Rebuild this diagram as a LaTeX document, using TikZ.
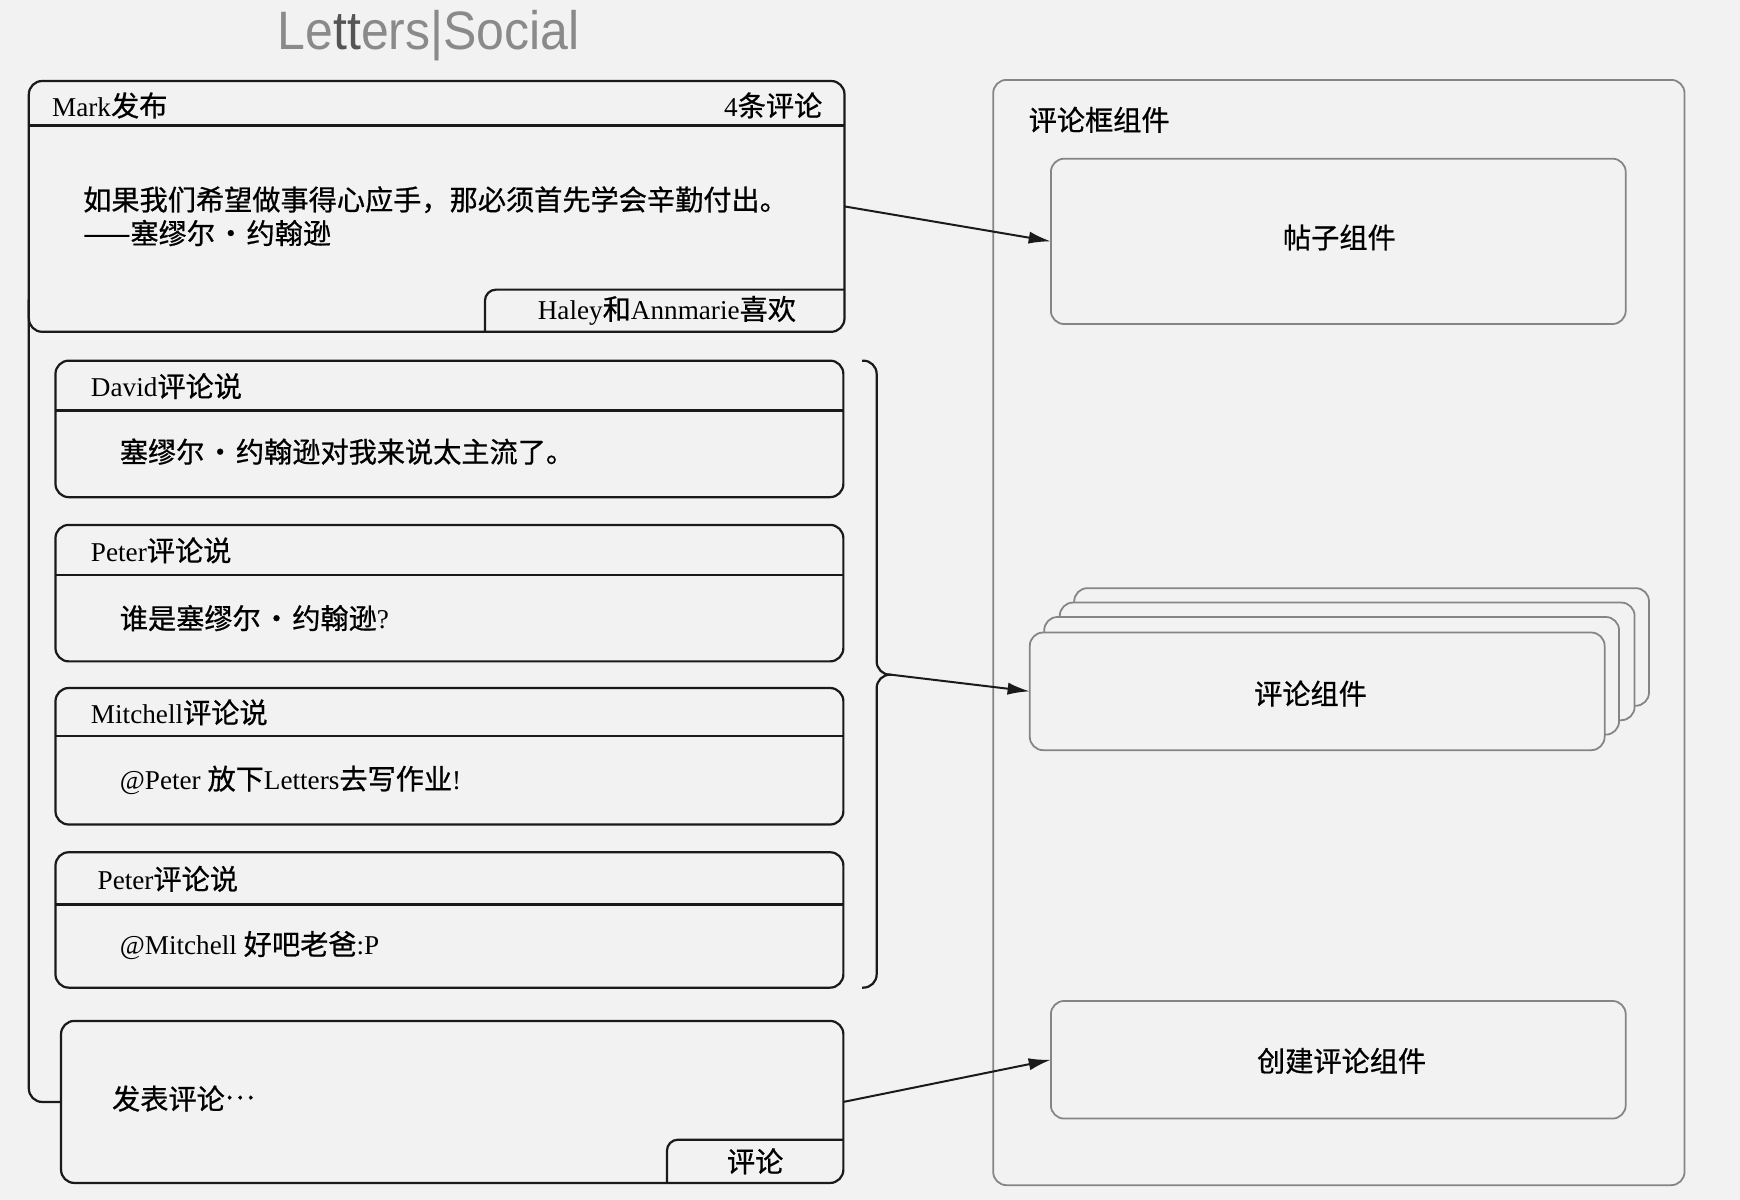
\documentclass[tikz,border=0pt]{standalone}
\usepackage{fontspec}
\setmainfont{Liberation Serif}
\newfontfamily\cjkfont[FakeBold=0.7]{Noto Sans CJK SC}
\newfontfamily\logofont{Liberation Sans}
\usetikzlibrary{arrows.meta}
\newcommand\zh[1]{{\cjkfont\fontsize{25.4}{29}\selectfont #1}}
\newcommand\mdot{\hspace{1.5pt}·\hspace{1.5pt}}
\definecolor{bgc}{HTML}{F2F2F2}
\definecolor{lcol}{HTML}{1A1A1A}
\definecolor{rcol}{HTML}{858585}
\definecolor{logogray}{HTML}{8A8A8A}
\definecolor{logodark}{HTML}{555555}
\tikzset{
  lbox/.style={draw=lcol, line width=2pt, rounded corners=12pt, inner sep=0pt, outer sep=0pt, anchor=north west},
  rbox/.style={draw=rcol, line width=1.6pt, rounded corners=12pt, inner sep=0pt, outer sep=0pt, anchor=north west, fill=bgc},
  lline/.style={draw=lcol, line width=2pt},
  txt/.style={inner sep=0pt, outer sep=0pt, text=black, font=\fontsize{24.5}{29}\selectfont},
  arr/.style={draw=lcol, line width=1.8pt, -{Latex[length=20pt,width=11pt]}},
}
\begin{document}
\begin{tikzpicture}[x=1pt,y=-1pt]
\fill[bgc] (0,0) rectangle (1568,1081);
\useasboundingbox (0,0) rectangle (1568,1081);

% logo
\node[inner sep=0pt, anchor=base west, font=\logofont\fontsize{46}{50}\selectfont, xscale=0.98, yscale=1.06] (logo) at (250,45)
  {\textcolor{logogray}{Le}\textcolor{logodark}{tt}\textcolor{logogray}{ers|Social}};

% ---------- left: post ----------
\node[lbox, minimum width=735pt, minimum height=226pt] (mark) at (26,73) {};
\draw[lline] (26,113) -- (761,113);
\node[txt, anchor=west] (markhead) at (47,95) {Mark\zh{发布}};
\node[txt, anchor=east] (count) at (741,95) {4\zh{条评论}};
\node[txt, anchor=west] (quote1) at (75,180) {\zh{如果我们希望做事得心应手，那必须首先学会辛勤付出。}};
\node[txt, anchor=west] (quote2) at (75,210) {\zh{——塞缪尔\mdot 约翰逊}};
\node[inner sep=0pt, outer sep=0pt, minimum width=324pt, minimum height=38pt, anchor=south east] (likes) at (mark.south east) {};
\draw[lline, rounded corners=10pt] (likes.south west) -- (likes.north west) -- (likes.north east);
\node[txt] (likestxt) at (601,280) {Haley\zh{和}Annmarie\zh{喜欢}};

% ---------- comments ----------
\node[lbox, minimum width=710pt, minimum height=123pt] (c1) at (50,325) {};
\draw[lline] (50,370) -- (760,370);
\node[txt, anchor=west] (c1h) at (82,348) {David\zh{评论说}};
\node[txt, anchor=west] (c1b) at (108,407) {\zh{塞缪尔\mdot 约翰逊对我来说太主流了。}};

\node[lbox, minimum width=710pt, minimum height=123pt] (c2) at (50,473) {};
\draw[lline] (50,518) -- (760,518);
\node[txt, anchor=west] (c2h) at (82,496) {Peter\zh{评论说}};
\node[txt, anchor=west] (c2b) at (108,557) {\zh{谁是塞缪尔\mdot 约翰逊}?};

\node[lbox, minimum width=710pt, minimum height=123pt] (c3) at (50,620) {};
\draw[lline] (50,663) -- (760,663);
\node[txt, anchor=west] (c3h) at (82,642) {Mitchell\zh{评论说}};
\node[txt, anchor=west] (c3b) at (108,703) {@Peter \zh{放下}Letters\zh{去写作业}!};

\node[lbox, minimum width=710pt, minimum height=122pt] (c4) at (50,768) {};
\draw[lline] (50,815) -- (760,815);
\node[txt, anchor=west] (c4h) at (88,792) {Peter\zh{评论说}};
\node[txt, anchor=west] (c4b) at (108,852) {@Mitchell \zh{好吧老爸}:P};

% brace
\coordinate (brace) at (803,608);
\draw[lline, rounded corners=12pt] (777,325) -| (790,608) -- (brace);
\draw[lline, rounded corners=12pt] (777,890) -| (790,608) -- (brace);

% ---------- new comment ----------
\node[lbox, minimum width=705pt, minimum height=146pt] (post) at (55,920) {};
\node[txt, anchor=west] (posttxt) at (101,990) {\zh{发表评论\raisebox{0.36em}{…}}};
\node[inner sep=0pt, outer sep=0pt, minimum width=159pt, minimum height=39pt, anchor=south east] (btn) at (post.south east) {};
\draw[lline, rounded corners=10pt] (btn.south west) -- (btn.north west) -- (btn.north east);
\node[txt] (btntxt) at (btn.center) {\zh{评论}};

% connector on the left
\draw[lline, rounded corners=12pt] (26,270) |- (post.west);

% ---------- right side ----------
\node[rbox, minimum width=623pt, minimum height=996pt] (frame) at (895,72) {};
\node[txt, anchor=west] (frametxt) at (927,108) {\zh{评论框组件}};

\node[rbox, minimum width=518pt, minimum height=149pt] (postc) at (947,143) {};
\node[txt] (postctxt) at (1207,214) {\zh{帖子组件}};

\node[rbox, minimum width=518pt, minimum height=106pt] (cm4) at (968,530) {};
\node[rbox, minimum width=518pt, minimum height=106pt] (cm3) at (955,543) {};
\node[rbox, minimum width=518pt, minimum height=106pt] (cm2) at (941,556) {};
\node[rbox, minimum width=518pt, minimum height=106pt] (cm1) at (928,570) {};
\node[txt] (cmtxt) at (1181,625) {\zh{评论组件}};

\node[rbox, minimum width=518pt, minimum height=106pt] (create) at (947,902) {};
\node[txt] (createtxt) at (1209,956) {\zh{创建评论组件}};

% ---------- arrows ----------
\draw[arr] (mark.east) -- (postc.west);
\draw[arr] (brace) -- (cm1.west);
\draw[arr] (post.east) -- (create.west);
\end{tikzpicture}
\end{document}
